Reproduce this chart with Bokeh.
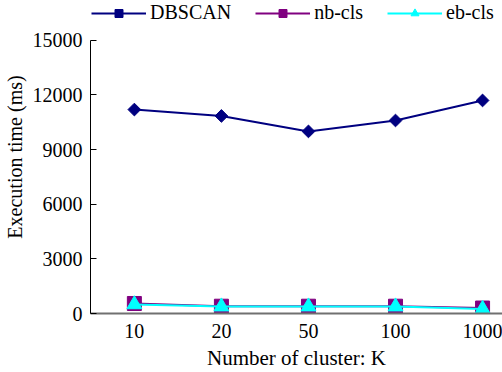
import numpy as np
from bokeh.plotting import figure
from bokeh.models import Legend, LegendItem, FixedTicker
from bokeh.embed import file_html
from bokeh.resources import INLINE

categories = ["10", "20", "50", "100", "1000"]
dbscan = [11200, 10850, 10000, 10600, 11700]
nb_cls = [550, 400, 400, 400, 300]
eb_cls = [500, 380, 380, 380, 250]
y_ticks = [0, 3000, 6000, 9000, 12000, 15000]
y_max = 15000

FONT = "Liberation Serif"
FS = "20px"
xs = list(range(len(categories)))

W, H = 502, 372
# frame spans the full top so the legend above the 15000 line is not clipped
y_end = y_max * 314 / 274
p = figure(width=W, height=H, output_backend="svg", toolbar_location=None,
           x_range=(-0.504, 4.229), y_range=(0, y_end))
p.min_border_left = 89
p.min_border_right = 0
p.min_border_top = 0
p.min_border_bottom = H - 314
p.outline_line_color = None
p.background_fill_color = "white"
p.border_fill_color = "white"
p.grid.visible = False

r1l = p.line(xs, dbscan, line_color="#000080", line_width=2)
r1m = p.scatter(xs, dbscan, marker="square", angle=np.pi / 4, size=9,
                fill_color="#000080", line_color="#000080")
r2l = p.line(xs, nb_cls, line_color="#800080", line_width=2)
r2m = p.scatter(xs, nb_cls, marker="square", size=14,
                fill_color="#800080", line_color="#800080")
r3l = p.line(xs, eb_cls, line_color="#00FFFF", line_width=2)
r3m = p.scatter(xs, eb_cls, marker="triangle", size=15,
                fill_color="#00FFFF", line_color="#00FFFF")

xa = p.xaxis[0]
xa.ticker = FixedTicker(ticks=xs)
xa.major_label_overrides = {i: c for i, c in enumerate(categories)}
xa.major_tick_line_color = None
xa.minor_tick_line_color = None
xa.axis_line_color = "#707070"
xa.axis_line_width = 2
xa.major_label_text_font = FONT
xa.major_label_text_font_size = FS
xa.major_label_text_color = "black"
xa.major_label_standoff = 4
xa.axis_label = "Number of cluster: K"
xa.axis_label_text_font = FONT
xa.axis_label_text_font_size = "21px"
xa.axis_label_text_font_style = "normal"
xa.axis_label_text_color = "black"
xa.axis_label_standoff = 5

ya = p.yaxis[0]
ya.ticker = FixedTicker(ticks=y_ticks)
ya.bounds = (0, y_max)
ya.major_tick_in = 6
ya.major_tick_out = 0
ya.minor_tick_line_color = None
ya.axis_line_color = "black"
ya.major_tick_line_color = "black"
ya.major_label_text_font = FONT
ya.major_label_text_font_size = FS
ya.major_label_text_color = "black"
ya.major_label_standoff = 8
ya.axis_label = "Execution time (ms)"
ya.axis_label_text_font = FONT
ya.axis_label_text_font_size = FS
ya.axis_label_text_font_style = "normal"
ya.axis_label_text_color = "black"
ya.axis_label_standoff = 4

legend = Legend(items=[
    LegendItem(label="DBSCAN", renderers=[r1l, r1m]),
    LegendItem(label="nb-cls", renderers=[r2l, r2m]),
    LegendItem(label="eb-cls", renderers=[r3l, r3m]),
], orientation="horizontal", location=(1, 289))
legend.glyph_width = 55
legend.glyph_height = 20
legend.label_height = 20
legend.padding = 0
legend.margin = 0
legend.spacing = 24
legend.label_standoff = 4
legend.label_text_font = FONT
legend.label_text_font_size = FS
legend.label_text_color = "black"
legend.border_line_color = None
legend.background_fill_alpha = 0
p.add_layout(legend)

open("out.html", "w").write(file_html(p, INLINE))
